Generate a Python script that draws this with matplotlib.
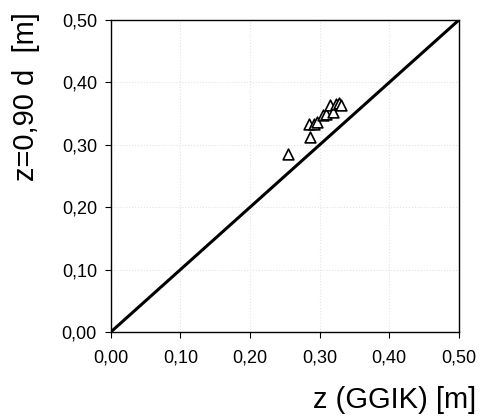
import numpy as np
import matplotlib.pyplot as plt
from matplotlib.ticker import FuncFormatter

plt.rcParams['font.family'] = ['Liberation Sans', 'DejaVu Sans']

# data
z_ggik = [0.254, 0.286, 0.285, 0.292, 0.296, 0.305, 0.309, 0.315, 0.319, 0.324, 0.328, 0.331]
z_090d = [0.285, 0.313, 0.333, 0.334, 0.336, 0.348, 0.349, 0.363, 0.353, 0.365, 0.367, 0.364]
line_xy = [0.0, 0.5]
ticks = [0.0, 0.1, 0.2, 0.3, 0.4, 0.5]

fig = plt.figure(figsize=(4.8, 4.17), dpi=100)
ax = fig.add_axes([0.231, 0.204, 0.725, 0.748])

ax.plot(line_xy, line_xy, color='black', lw=2.2)
ax.scatter(z_ggik, z_090d, marker='^', s=60, facecolors='white',
           edgecolors='black', linewidths=1.2, zorder=3)

ax.set_xlim(0, 0.5)
ax.set_ylim(0, 0.5)
ax.set_xticks(ticks)
ax.set_yticks(ticks)
fmt = FuncFormatter(lambda v, p: ('%.2f' % v).replace('.', ','))
ax.xaxis.set_major_formatter(fmt)
ax.yaxis.set_major_formatter(fmt)
ax.tick_params(direction='out', length=4, labelsize=13, top=False, right=False)
ax.tick_params(axis='x', pad=9)
ax.tick_params(axis='y', pad=6)
ax.grid(True, color='#e4e4e4', linestyle=':', lw=0.8)
ax.set_axisbelow(True)
for s in ax.spines.values():
    s.set_linewidth(1)

fig.text(476/480, 1 - 400/417, 'z (GGIK) [m]', fontsize=21, ha='right', va='center')
fig.text(26/480, 1 - 12/417, 'z=0,90 d  [m]', fontsize=21, rotation=90,
         ha='center', va='top')

fig.savefig('out.png', dpi=100)
